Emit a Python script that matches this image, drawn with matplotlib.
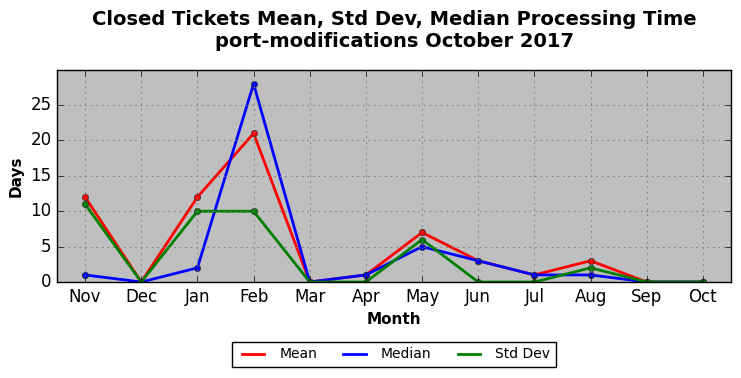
import matplotlib
matplotlib.use('Agg')
import matplotlib.pyplot as plt
from matplotlib.lines import Line2D

months = ['Nov', 'Dec', 'Jan', 'Feb', 'Mar', 'Apr', 'May', 'Jun', 'Jul', 'Aug', 'Sep', 'Oct']
mean_days = [12, 0, 12, 21, 0, 1, 7, 3, 1, 3, 0, 0]
median_days = [1, 0, 2, 28, 0, 1, 5, 3, 1, 1, 0, 0]
std_days = [11, 0, 10, 10, 0, 0, 6, 0, 0, 2, 0, 0]

plt.style.use('classic')
fig = plt.figure(figsize=(7.41, 3.78), dpi=100)
fig.set_facecolor('white')
ax = fig.add_axes([57/741, 1 - 282/378, 674/741, 212/378])
ax.set_facecolor('#bfbfbf')

x = list(range(len(months)))
ax.plot(x, mean_days, color='red', lw=2, marker='o', ms=4.5, mec='#333333')
ax.plot(x, median_days, color='blue', lw=2, marker='o', ms=4.5, mec='#333333')
ax.plot(x, std_days, color='green', lw=2, marker='o', ms=4.5, mec='#333333')

ax.set_xlim(-0.5, len(months) - 0.5)
ax.set_ylim(0, max(median_days) * 1.07)
ax.set_xticks(x)
ax.set_xticklabels(months)
ax.set_yticks([0, 5, 10, 15, 20, 25])
ax.tick_params(labelsize=12)
ax.grid(True, color='#777777', linestyle=':', lw=0.8)

ax.set_xlabel('Month', fontsize=11, fontweight='bold')
ax.set_ylabel('Days', fontsize=11, fontweight='bold')
ax.set_title('Closed Tickets Mean, Std Dev, Median Processing Time\nport-modifications October 2017',
             fontsize=14, fontweight='bold', y=1.078)

handles = [Line2D([], [], color='red', lw=2),
           Line2D([], [], color='blue', lw=2),
           Line2D([], [], color='green', lw=2)]
leg = ax.legend(handles, ['Mean', 'Median', 'Std Dev'], loc='upper center',
                bbox_to_anchor=(0.5, -0.25), ncol=3, fontsize=10,
                frameon=True, fancybox=False, handlelength=2.2, columnspacing=1.6)
leg.get_frame().set_edgecolor('black')

fig.savefig('out.png', dpi=100, facecolor='white')
